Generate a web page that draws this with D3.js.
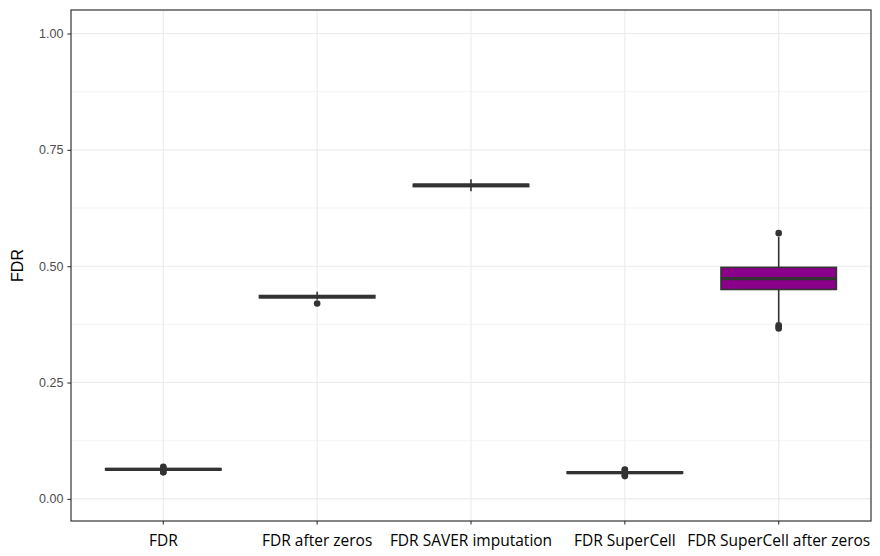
<!DOCTYPE html>
<html lang="en">
  <head>
    <meta charset="utf-8">
    <script src="https://d3js.org/d3.v7.min.js"></script>
    <style>
      body { margin: 0; background: #fff; }
    </style>
  </head>
<body>
  <div id="chart"></div>
  <script>
    // chart data
    var categories = ["FDR", "FDR after zeros", "FDR SAVER imputation", "FDR SuperCell", "FDR SuperCell after zeros"];
    var whiskerLow = [0.060, 0.428, 0.661, 0.053, 0.380];
    var q1 = [0.062, 0.432, 0.671, 0.055, 0.450];
    var median = [0.0635, 0.4345, 0.674, 0.0565, 0.4735];
    var q3 = [0.065, 0.437, 0.676, 0.058, 0.4975];
    var whiskerHigh = [0.066, 0.445, 0.687, 0.060, 0.563];
    var outliers = [
      [0.069, 0.067, 0.058, 0.057],
      [0.420],
      [],
      [0.063, 0.062, 0.050, 0.049],
      [0.571, 0.373, 0.369, 0.366]
    ];
    var boxFill = ["#ffffff", "#ffffff", "#ffffff", "#ffffff", "#8B008B"];
    var yTicks = [0, 0.25, 0.5, 0.75, 1];
    var yMinor = [0.125, 0.375, 0.625, 0.875];

    // plot setup
    var width = 880;
    var height = 556;
    var pLeft = 71, pRight = 871, pTop = 10, pBottom = 521;

    var data = categories.map(function(c, i) {
      return {
        cat: c, lo: whiskerLow[i], q1: q1[i], med: median[i],
        q3: q3[i], hi: whiskerHigh[i], out: outliers[i], fill: boxFill[i]
      };
    });

    var svg = d3.select("#chart")
                .append("svg")
                .attr("width", width)
                .attr("height", height);

    // scales (ggplot style: 0.6 unit expansion at each side)
    var xScale = d3.scaleBand()
                   .domain(categories)
                   .range([pLeft, pRight])
                   .paddingOuter(0.1)
                   .paddingInner(0);
    var cx = function(c) { return xScale(c) + xScale.bandwidth() / 2; };
    var boxW = xScale.step() * 0.75;

    var yScale = d3.scaleLinear()
                   .domain([-0.0475, 1.0505])
                   .range([pBottom, pTop]);

    // panel grid
    var grid = svg.append("g");
    grid.selectAll("line.minor")
        .data(yMinor)
        .enter()
        .append("line")
        .attr("x1", pLeft).attr("x2", pRight)
        .attr("y1", function(d) { return yScale(d); })
        .attr("y2", function(d) { return yScale(d); })
        .attr("stroke", "#ebebeb")
        .attr("stroke-width", 0.6);
    grid.selectAll("line.majory")
        .data(yTicks)
        .enter()
        .append("line")
        .attr("x1", pLeft).attr("x2", pRight)
        .attr("y1", function(d) { return yScale(d); })
        .attr("y2", function(d) { return yScale(d); })
        .attr("stroke", "#ebebeb")
        .attr("stroke-width", 1.1);
    grid.selectAll("line.majorx")
        .data(categories)
        .enter()
        .append("line")
        .attr("x1", cx).attr("x2", cx)
        .attr("y1", pTop).attr("y2", pBottom)
        .attr("stroke", "#ebebeb")
        .attr("stroke-width", 1.1);

    // boxes
    var boxes = svg.append("g")
        .selectAll("g")
        .data(data)
        .enter()
        .append("g");

    boxes.append("line")
        .attr("x1", function(d) { return cx(d.cat); })
        .attr("x2", function(d) { return cx(d.cat); })
        .attr("y1", function(d) { return yScale(d.hi); })
        .attr("y2", function(d) { return yScale(d.q3); })
        .attr("stroke", "#333333")
        .attr("stroke-width", 1.6);
    boxes.append("line")
        .attr("x1", function(d) { return cx(d.cat); })
        .attr("x2", function(d) { return cx(d.cat); })
        .attr("y1", function(d) { return yScale(d.q1); })
        .attr("y2", function(d) { return yScale(d.lo); })
        .attr("stroke", "#333333")
        .attr("stroke-width", 1.6);

    boxes.append("rect")
        .attr("x", function(d) { return cx(d.cat) - boxW / 2; })
        .attr("width", boxW)
        .attr("y", function(d) { return yScale(d.q3); })
        .attr("height", function(d) { return yScale(d.q1) - yScale(d.q3); })
        .attr("fill", function(d) { return d.fill; })
        .attr("stroke", "#333333")
        .attr("stroke-width", 1.6);

    boxes.append("line")
        .attr("x1", function(d) { return cx(d.cat) - boxW / 2; })
        .attr("x2", function(d) { return cx(d.cat) + boxW / 2; })
        .attr("y1", function(d) { return yScale(d.med); })
        .attr("y2", function(d) { return yScale(d.med); })
        .attr("stroke", "#333333")
        .attr("stroke-width", 3.2);

    // outlier points
    boxes.selectAll("circle")
        .data(function(d) {
          return d.out.map(function(v) { return { cat: d.cat, v: v }; });
        })
        .enter()
        .append("circle")
        .attr("cx", function(d) { return cx(d.cat); })
        .attr("cy", function(d) { return yScale(d.v); })
        .attr("r", 3.3)
        .attr("fill", "#333333");

    // panel border
    svg.append("rect")
        .attr("x", pLeft).attr("y", pTop)
        .attr("width", pRight - pLeft).attr("height", pBottom - pTop)
        .attr("fill", "none")
        .attr("stroke", "#333333")
        .attr("stroke-width", 1.2);

    // axes
    var yAxis = d3.axisLeft(yScale)
                  .tickValues(yTicks)
                  .tickFormat(d3.format(".2f"))
                  .tickSize(3.6)
                  .tickPadding(4);
    var gy = svg.append("g")
        .attr("transform", "translate(" + pLeft + ",0)")
        .call(yAxis);
    gy.select(".domain").remove();
    gy.selectAll(".tick line").attr("stroke", "#333333").attr("stroke-width", 1.1);
    gy.selectAll(".tick text")
        .attr("fill", "#4d4d4d")
        .style("font-family", "'Liberation Sans', Arial, sans-serif")
        .style("font-size", "12.5px");

    var xAxis = d3.axisBottom(xScale)
                  .tickSize(3.6)
                  .tickPadding(10);
    var gx = svg.append("g")
        .attr("transform", "translate(0," + pBottom + ")")
        .call(xAxis);
    gx.select(".domain").remove();
    gx.selectAll(".tick line").attr("stroke", "#333333").attr("stroke-width", 1.1);
    gx.selectAll(".tick text")
        .attr("fill", "#000")
        .style("font-family", "'Open Sans', sans-serif")
        .style("font-size", "15.5px");

    // axis title
    svg.append("text")
        .attr("transform", "translate(23," + ((pTop + pBottom) / 2) + ") rotate(-90)")
        .attr("text-anchor", "middle")
        .style("font-family", "'Liberation Sans', Arial, sans-serif")
        .style("font-size", "16px")
        .attr("fill", "#000")
        .text("FDR");
  </script>
</body>
</html>
